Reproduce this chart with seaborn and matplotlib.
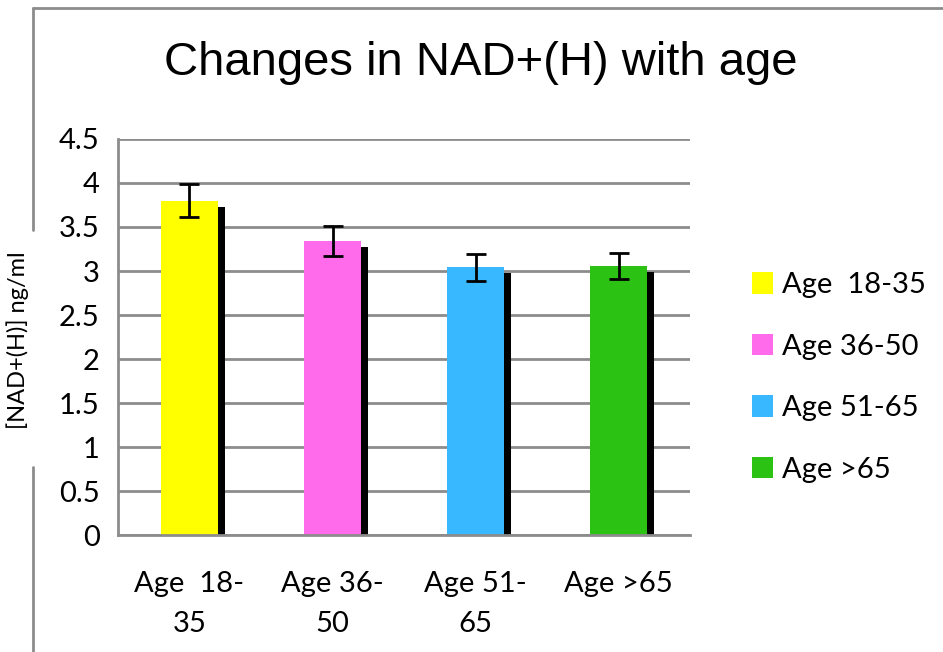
import matplotlib
matplotlib.use("Agg")
import matplotlib.pyplot as plt
import matplotlib.patheffects as pe
from matplotlib.patches import Patch
from matplotlib.lines import Line2D
import seaborn as sns
import pandas as pd

# data
groups = ["Age  18-35", "Age 36-50", "Age 51-65", "Age >65"]
tick_labels = ["Age  18-\n35", "Age 36-\n50", "Age 51-\n65", "Age >65"]
nad_mean = [3.80, 3.34, 3.04, 3.06]
nad_err = [0.19, 0.17, 0.15, 0.15]
colors = ["#FFFF00", "#FF6BEB", "#38B8FF", "#2CC214"]

sns.set_style("white")
plt.rcParams["font.family"] = ["Lato", "DejaVu Sans"]
plt.rcParams["text.color"] = "black"
plt.rcParams["xtick.labelcolor"] = "black"
plt.rcParams["ytick.labelcolor"] = "black"

df = pd.DataFrame({"group": groups, "nad": nad_mean})

fig = plt.figure(figsize=(9.43, 6.52), dpi=100)
ax = fig.add_axes([0.125, 0.179, 0.607, 0.608])

sns.barplot(data=df, x="group", y="nad", hue="group", palette=colors,
            width=0.4, legend=False, ax=ax, saturation=1)

# drop shadow on each bar
for bar in ax.patches:
    bar.set_edgecolor("none")
    bar.set_path_effects([pe.SimplePatchShadow(offset=(5, -4.3), shadow_rgbFace="black", alpha=1),
                          pe.Normal()])

ax.errorbar(range(len(groups)), nad_mean, yerr=nad_err, fmt="none",
            ecolor="black", elinewidth=2, capsize=7, capthick=2, zorder=5)

ax.set_ylim(0, 4.5)
ax.set_yticks([0, 0.5, 1, 1.5, 2, 2.5, 3, 3.5, 4, 4.5])
ax.set_yticklabels(["0", "0.5", "1", "1.5", "2", "2.5", "3", "3.5", "4", "4.5"])
ax.set_xlim(-0.5, 3.5)
ax.set_xticks([-0.5, 0.5, 1.5, 2.5, 3.5])
ax.set_xticklabels([])
ax.set_xticks(range(len(groups)), minor=True)
ax.set_xticklabels(tick_labels, minor=True, fontsize=21, linespacing=1.65)
ax.tick_params(axis="x", which="minor", length=0, pad=26)
ax.tick_params(axis="x", which="major", length=8, width=2, color="#8c8c8c", direction="out")
ax.tick_params(axis="y", length=8, width=2, color="#8c8c8c", direction="out", labelsize=21, pad=5)

ax.yaxis.grid(True, color="#8c8c8c", linewidth=2)
ax.set_axisbelow(True)
for side in ["top", "right"]:
    ax.spines[side].set_visible(False)
for side in ["left", "bottom"]:
    ax.spines[side].set_color("#8c8c8c")
    ax.spines[side].set_linewidth(2)

ax.set_xlabel("")
ax.set_ylabel("")
fig.text(0.019, 0.478, "[NAD+(H)] ng/ml", rotation=90, fontsize=17,
         ha="center", va="center")

fig.text(0.51, 0.903, "Changes in NAD+(H) with age", fontsize=34,
         family=["Liberation Sans", "DejaVu Sans"], ha="center", va="center")

handles = [Patch(facecolor=c, edgecolor="none") for c in colors]
fig.legend(handles, groups, loc="center left", bbox_to_anchor=(0.797, 0.421),
           frameon=False, fontsize=21, handlelength=0.75, handleheight=0.75,
           handletextpad=0.3, labelspacing=1.22, borderpad=0, borderaxespad=0)

# chart border (broken by the y label)
border = "#8c8c8c"
fig.add_artist(Line2D([0.035, 1.0], [0.988, 0.988], color=border, linewidth=2))
fig.add_artist(Line2D([0.035, 0.035], [0.988, 0.647], color=border, linewidth=2))
fig.add_artist(Line2D([0.035, 0.035], [0.284, 0.0], color=border, linewidth=2))

fig.savefig("out.png", dpi=100)
